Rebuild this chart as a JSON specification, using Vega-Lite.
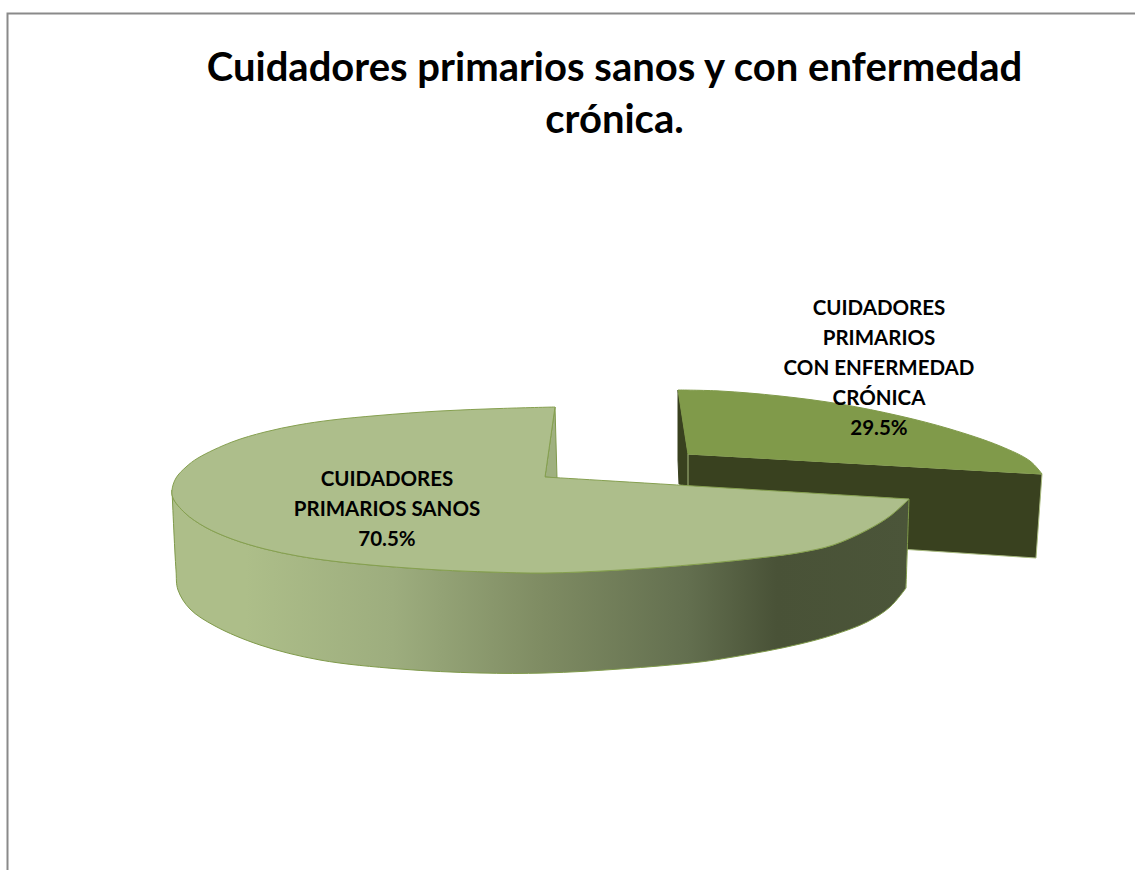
{"$schema":"https://vega.github.io/schema/vega-lite/v6.json","width":1135,"height":870,"padding":0,"autosize":{"type":"none"},"background":"white","view":{"stroke":null},
"title":{"text":["Cuidadores primarios sanos y con enfermedad","crónica."],"anchor":"middle","frame":"group","dx":47,"dy":145,"fontSize":40,"font":"Lato","fontWeight":"bold","color":"#000000","lineHeight":52},
"datasets":{"outline":[
{"part":"frame","i":0,"x":1135,"y":13.5},{"part":"frame","i":1,"x":7.5,"y":13.5},{"part":"frame","i":2,"x":7.5,"y":870},
{"part":"smallInner","i":0,"x":678,"y":390},{"part":"smallInner","i":1,"x":688,"y":454},{"part":"smallInner","i":2,"x":688,"y":486},{"part":"smallInner","i":3,"x":679,"y":484},{"part":"smallInner","i":4,"x":678,"y":460},{"part":"smallInner","i":5,"x":678,"y":390},
{"part":"smallWall","i":0,"x":688,"y":454},{"part":"smallWall","i":1,"x":1042,"y":474},{"part":"smallWall","i":2,"x":1036,"y":558},{"part":"smallWall","i":3,"x":688,"y":535},{"part":"smallWall","i":4,"x":688,"y":454},
{"part":"smallTop","i":0,"x":678,"y":390},{"part":"smallTop","i":1,"x":678,"y":390},{"part":"smallTop","i":2,"x":720,"y":391},{"part":"smallTop","i":3,"x":780,"y":396},{"part":"smallTop","i":4,"x":840,"y":404},{"part":"smallTop","i":5,"x":900,"y":416},{"part":"smallTop","i":6,"x":950,"y":429},{"part":"smallTop","i":7,"x":1000,"y":446},{"part":"smallTop","i":8,"x":1030,"y":461},{"part":"smallTop","i":9,"x":1042,"y":474},{"part":"smallTop","i":10,"x":1042,"y":474},{"part":"smallTop","i":11,"x":688,"y":454},{"part":"smallTop","i":12,"x":688,"y":454},{"part":"smallTop","i":13,"x":678,"y":390},{"part":"smallTop","i":14,"x":678,"y":390},
{"part":"bigInner","i":0,"x":555,"y":407},{"part":"bigInner","i":1,"x":545,"y":477},{"part":"bigInner","i":2,"x":557,"y":478},{"part":"bigInner","i":3,"x":555,"y":407},
{"part":"bigWall","i":0,"x":172,"y":490},{"part":"bigWall","i":1,"x":172,"y":490},{"part":"bigWall","i":2,"x":173,"y":498},{"part":"bigWall","i":3,"x":185,"y":513},{"part":"bigWall","i":4,"x":205,"y":527},{"part":"bigWall","i":5,"x":232,"y":539},{"part":"bigWall","i":6,"x":265,"y":549},{"part":"bigWall","i":7,"x":298,"y":556},{"part":"bigWall","i":8,"x":332,"y":561},{"part":"bigWall","i":9,"x":382,"y":566},{"part":"bigWall","i":10,"x":440,"y":570},{"part":"bigWall","i":11,"x":490,"y":572},{"part":"bigWall","i":12,"x":545,"y":573},{"part":"bigWall","i":13,"x":620,"y":570},{"part":"bigWall","i":14,"x":700,"y":564},{"part":"bigWall","i":15,"x":767,"y":557},{"part":"bigWall","i":16,"x":800,"y":552.5},{"part":"bigWall","i":17,"x":833,"y":545},{"part":"bigWall","i":18,"x":867,"y":530},{"part":"bigWall","i":19,"x":890,"y":516},{"part":"bigWall","i":20,"x":909,"y":499},{"part":"bigWall","i":21,"x":909,"y":499},{"part":"bigWall","i":22,"x":906,"y":588},{"part":"bigWall","i":23,"x":906,"y":588},{"part":"bigWall","i":24,"x":890,"y":607},{"part":"bigWall","i":25,"x":867,"y":622},{"part":"bigWall","i":26,"x":833,"y":635},{"part":"bigWall","i":27,"x":800,"y":644},{"part":"bigWall","i":28,"x":767,"y":651},{"part":"bigWall","i":29,"x":733,"y":657},{"part":"bigWall","i":30,"x":700,"y":662},{"part":"bigWall","i":31,"x":620,"y":669},{"part":"bigWall","i":32,"x":545,"y":673},{"part":"bigWall","i":33,"x":480,"y":673},{"part":"bigWall","i":34,"x":400,"y":669},{"part":"bigWall","i":35,"x":320,"y":660},{"part":"bigWall","i":36,"x":260,"y":645},{"part":"bigWall","i":37,"x":215,"y":626},{"part":"bigWall","i":38,"x":190,"y":609},{"part":"bigWall","i":39,"x":178,"y":590},{"part":"bigWall","i":40,"x":176,"y":570},{"part":"bigWall","i":41,"x":172,"y":490},{"part":"bigWall","i":42,"x":172,"y":490},
{"part":"bigTop","i":0,"x":555,"y":407},{"part":"bigTop","i":1,"x":555,"y":407},{"part":"bigTop","i":2,"x":500,"y":408.5},{"part":"bigTop","i":3,"x":440,"y":411},{"part":"bigTop","i":4,"x":378,"y":415.5},{"part":"bigTop","i":5,"x":332,"y":420},{"part":"bigTop","i":6,"x":298,"y":425},{"part":"bigTop","i":7,"x":265,"y":432},{"part":"bigTop","i":8,"x":232,"y":442},{"part":"bigTop","i":9,"x":198,"y":458},{"part":"bigTop","i":10,"x":186,"y":467},{"part":"bigTop","i":11,"x":176,"y":478},{"part":"bigTop","i":12,"x":172,"y":490},{"part":"bigTop","i":13,"x":173,"y":498},{"part":"bigTop","i":14,"x":185,"y":513},{"part":"bigTop","i":15,"x":205,"y":527},{"part":"bigTop","i":16,"x":232,"y":539},{"part":"bigTop","i":17,"x":265,"y":549},{"part":"bigTop","i":18,"x":298,"y":556},{"part":"bigTop","i":19,"x":332,"y":561},{"part":"bigTop","i":20,"x":382,"y":566},{"part":"bigTop","i":21,"x":440,"y":570},{"part":"bigTop","i":22,"x":490,"y":572},{"part":"bigTop","i":23,"x":545,"y":573},{"part":"bigTop","i":24,"x":620,"y":570},{"part":"bigTop","i":25,"x":700,"y":564},{"part":"bigTop","i":26,"x":767,"y":557},{"part":"bigTop","i":27,"x":800,"y":552.5},{"part":"bigTop","i":28,"x":833,"y":545},{"part":"bigTop","i":29,"x":867,"y":530},{"part":"bigTop","i":30,"x":890,"y":516},{"part":"bigTop","i":31,"x":909,"y":499},{"part":"bigTop","i":32,"x":909,"y":499},{"part":"bigTop","i":33,"x":545,"y":477},{"part":"bigTop","i":34,"x":545,"y":477},{"part":"bigTop","i":35,"x":555,"y":407},{"part":"bigTop","i":36,"x":555,"y":407}
],
"slices":[
{"slice":"CUIDADORES\nPRIMARIOS SANOS\n70.5%","share":70.5,"x":387,"y":479.5},
{"slice":"CUIDADORES\nPRIMARIOS\nCON ENFERMEDAD\nCRÓNICA\n29.5%","share":29.5,"x":879,"y":309}
]},
"encoding":{"x":{"field":"x","type":"quantitative","scale":{"domain":[0,1135]},"axis":null},"y":{"field":"y","type":"quantitative","scale":{"domain":[870,0]},"axis":null},"order":{"field":"i","type":"quantitative"}},
"layer":[
{"data":{"name":"outline"},"transform":[{"filter":"datum.part==='frame'"}],"mark":{"type":"line","stroke":"#8a8a8a","strokeWidth":2,"clip":false}},
{"data":{"name":"outline"},"transform":[{"filter":"datum.part==='smallInner'"}],"mark":{"type":"line","fill":"#39411f","stroke":"#39411f","strokeWidth":1}},
{"data":{"name":"outline"},"transform":[{"filter":"datum.part==='smallWall'"}],"mark":{"type":"line","fill":"#39411f","stroke":"#a9bb80","strokeWidth":1}},
{"data":{"name":"outline"},"transform":[{"filter":"datum.part==='smallTop'"}],"mark":{"type":"line","interpolate":"catmull-rom","fill":"#809a4a","stroke":"#809a4a","strokeWidth":1}},
{"data":{"name":"outline"},"transform":[{"filter":"datum.part==='bigInner'"}],"mark":{"type":"line","fill":"#9fb07f","stroke":"#7f9a4a","strokeWidth":1}},
{"data":{"name":"outline"},"transform":[{"filter":"datum.part==='bigWall'"}],"mark":{"type":"line","interpolate":"catmull-rom","stroke":"#7f9a4a","strokeWidth":1,"fill":{"gradient":"linear","x1":0,"y1":0,"x2":1,"y2":0,"stops":[{"offset":0,"color":"#adbe89"},{"offset":0.1,"color":"#adbe89"},{"offset":0.3,"color":"#9dad7e"},{"offset":0.5,"color":"#7f8c63"},{"offset":0.7,"color":"#636f4f"},{"offset":0.82,"color":"#495237"},{"offset":1,"color":"#4b5539"}]}}},
{"data":{"name":"outline"},"transform":[{"filter":"datum.part==='bigTop'"}],"mark":{"type":"line","interpolate":"catmull-rom","fill":"#adbe8b","stroke":"#86a050","strokeWidth":1}},
{"data":{"name":"slices"},"mark":{"type":"text","font":"Lato","fontWeight":"bold","fontSize":20.5,"lineHeight":30,"lineBreak":"\n","align":"center","baseline":"middle","color":"#000000"},"encoding":{"text":{"field":"slice","type":"nominal"},"order":{"value":null}}}
]}
